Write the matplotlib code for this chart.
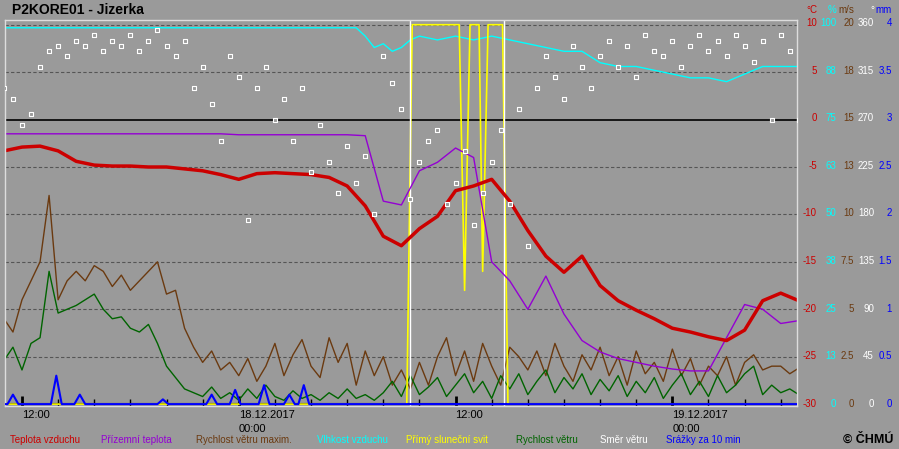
import numpy as np
import matplotlib.pyplot as plt

# hours since 17.12.2017 12:00
hours = np.arange(-1, 44, 1)
teplota = [-3.3, -2.9, -2.8, -3.3, -4.4, -4.8, -4.9, -4.9, -5.0, -5.0, -5.2, -5.4, -5.8, -6.3,
           -5.7, -5.6, -5.7, -5.8, -6.1, -7.0, -9.1, -12.3, -13.3, -11.5, -10.2, -7.5, -7.0, -6.3,
           -8.6, -11.7, -14.4, -16.1, -14.4, -17.5, -19.1, -20.1, -21.0, -22.0, -22.4, -22.9,
           -23.3, -22.2, -19.1, -18.3, -19.1]
prizemni = [-1.5, -1.5, -1.5, -1.5, -1.5, -1.5, -1.5, -1.5, -1.5, -1.5, -1.5, -1.5, -1.5, -1.6,
            -1.6, -1.6, -1.6, -1.6, -1.6, -1.6, -1.7, -8.6, -9.0, -5.4, -4.5, -3.0, -4.0, -15.0,
            -17.0, -20.0, -16.5, -20.5, -23.3, -24.5, -25.2, -25.6, -26.0, -26.3, -26.5, -26.5,
            -23.0, -19.5, -20.0, -21.5, -21.2]

vlh_t = [-1, 18.5, 19, 19.5, 20, 20.5, 21, 21.5, 22, 23, 24, 25, 26, 27, 28, 29, 30, 31, 32, 33,
         34, 35, 36, 37, 38, 39, 40, 41, 42, 43]
vlhkost = [99.2, 99.2, 97, 94, 95, 93, 94, 96, 97, 96, 97, 96, 97, 96, 95, 94, 93, 93, 90, 89,
           89, 88, 87, 86, 86, 85, 87, 89, 89, 89]

slunce_t = [-1, 21.3, 21.6, 24.2, 24.5, 24.8, 25.3, 25.5, 25.8, 26.6, 26.9, 43]
slunce = [0, 0, 1, 1, 0.3, 1, 1, 0.35, 1, 1, 0, 0]

vitr_max = [4.5, 3.8, 5.5, 6.5, 7.5, 11.0, 5.5, 6.5, 7.0, 6.5, 7.3, 7.0, 6.2, 6.8, 6.0, 6.5, 7.0,
            7.5, 5.8, 6.0, 4.0, 3.0, 2.2, 2.8, 1.8, 2.2, 1.5, 2.4, 1.2, 2.0, 3.2, 1.5, 2.6, 3.4,
            2.0, 1.4, 3.5, 2.2, 3.2, 1.0, 2.8, 1.5, 2.5, 1.0, 1.8, 0.8, 2.2, 1.0, 2.5, 3.5, 1.5,
            2.8, 1.2, 3.2, 2.0, 1.0, 3.0, 2.5, 1.8, 2.8, 1.5, 3.2, 2.0, 1.2, 2.6, 1.8, 3.0, 1.5,
            2.5, 1.0, 2.8, 1.6, 2.2, 1.2, 2.9, 1.5, 2.4, 1.0, 2.0, 1.5, 2.5, 1.0, 2.2, 2.6, 1.8,
            2.0, 2.0, 1.6, 1.9]
vitr = [2.3, 3.0, 1.8, 3.2, 3.5, 7.0, 4.8, 5.0, 5.2, 5.5, 5.8, 5.0, 4.5, 4.6, 4.0, 3.8, 4.2, 3.2,
        2.0, 1.4, 0.8, 0.6, 0.4, 0.9, 0.3, 0.6, 0.2, 0.8, 0.3, 1.0, 0.4, 0.2, 0.7, 0.3, 0.5, 0.2,
        0.6, 0.3, 0.8, 0.3, 0.5, 0.2, 0.6, 1.2, 0.4, 1.5, 0.5, 0.9, 1.4, 0.4, 1.0, 1.6, 0.6, 1.2,
        0.3, 1.5, 0.8, 1.6, 0.5, 1.2, 1.8, 0.6, 1.4, 0.8, 1.6, 0.5, 1.3, 0.7, 1.5, 0.4, 1.2, 0.6,
        1.4, 0.3, 1.0, 1.6, 0.5, 1.2, 0.4, 1.5, 0.6, 1.0, 1.6, 2.0, 0.5, 1.0, 0.6, 0.8, 0.5]
smer = [300, 290, 265, 275, 320, 335, 340, 330, 345, 340, 350, 335, 345, 340, 350, 335, 345, 355,
        340, 330, 345, 300, 320, 285, 250, 330, 310, 175, 300, 320, 270, 290, 250, 300, 220, 265,
        230, 200, 245, 210, 235, 180, 330, 305, 280, 195, 230, 250, 260, 190, 210, 240, 170, 200,
        230, 260, 190, 280, 150, 300, 330, 310, 290, 340, 320, 300, 330, 345, 320, 340, 310, 350,
        335, 330, 345, 320, 340, 350, 335, 345, 330, 350, 340, 325, 345, 270, 350, 335, 270]

srazky_t = [-0.5, 1.9, 3.2, 7.8, 10.5, 11.8, 13.4, 14.8, 15.6]
srazky = [0.1, 0.3, 0.1, 0.05, 0.1, 0.15, 0.2, 0.1, 0.2]

def deg(v, vmax):
    return -30 + 40 * np.asarray(v, dtype=float) / vmax

bg = "#9a9a9a"
fig = plt.figure(figsize=(8.99, 4.49), dpi=100, facecolor=bg)
ax = fig.add_axes([5 / 899, 43 / 449, 792 / 899, 386 / 449], facecolor=bg)
ax.set_xlim(-0.94, 42.9)
ax.set_ylim(-30.2, 10.5)

for v in range(-25, 11, 5):
    if v != 0:
        ax.axhline(v, color="#555555", lw=0.8, ls=(0, (3, 2)), zorder=0)
ax.axhline(0, color="black", lw=1.2, zorder=1)
ax.axhline(-30, color="black", lw=1.5, zorder=1)

t_half = np.linspace(-1, 43, len(vitr_max))
t_half2 = np.linspace(-1, 43, len(vitr))
t_smer = np.linspace(-1, 43, len(smer))

ax.plot(t_half, deg(vitr_max, 20), color="#6b3a10", lw=1)
ax.plot(t_half2, deg(vitr, 20), color="#006400", lw=1)
ax.plot(vlh_t, deg(vlhkost, 100), color="cyan", lw=1)
ax.plot(slunce_t, -30 + 40 * np.array(slunce), color="yellow", lw=1.2)
ax.axvline(21.5, color="white", lw=1)
ax.axvline(26.7, color="white", lw=1)
ax.plot(hours, prizemni, color="#9400d3", lw=1)
ax.plot(hours, teplota, color="#cc0000", lw=2.5)
ax.scatter(t_smer, deg(smer, 360), s=5, marker="s", facecolor=bg, edgecolor="white", lw=0.8, zorder=5)

px, py = [-1], [0]
for t, v in zip(srazky_t, srazky):
    px += [t - 0.3, t, t + 0.3]
    py += [0, v, 0]
px.append(43)
py.append(0)
ax.plot(px, deg(py, 4), color="blue", lw=1.5, zorder=4)

ax.set_yticks([])
ax.set_xticks(np.arange(0, 43, 2), minor=True)
ax.set_xticks([0, 12, 24, 36])
ax.set_xticklabels(["12:00", "18.12.2017\n00:00", "12:00", "19.12.2017\n00:00"], ha="left", fontsize=8,
                   family="Liberation Sans", linespacing=1.45)
ax.tick_params(axis="x", which="major", direction="in", length=7, width=2, pad=3)
ax.tick_params(axis="x", which="minor", direction="in", length=5, width=1)
for s in ax.spines.values():
    s.set_color("#dddddd")
    s.set_linewidth(1)

fig.text(12 / 899, 1 - 10 / 449, "P2KORE01 - Jizerka", fontsize=10, weight="bold", va="center",
         family="Liberation Sans")

cols = [(817, "°C", "#cc0000", [10, 5, 0, -5, -10, -15, -20, -25, -30]),
        (836, "%", "cyan", [100, 88, 75, 63, 50, 38, 25, 13, 0]),
        (854, "m/s", "#6b3a10", [20, 18, 15, 13, 10, 7.5, 5, 2.5, 0]),
        (874, "°", "white", [360, 315, 270, 225, 180, 135, 90, 45, 0]),
        (892, "mm", "blue", [4, 3.5, 3, 2.5, 2, 1.5, 1, 0.5, 0])]
for x, head, c, vals in cols:
    fig.text(x / 899, 1 - 10 / 449, head, color=c, fontsize=7, ha="right", va="center",
             family="Liberation Sans")
    for i, v in enumerate(vals):
        y = 23 + i * 47.6
        fig.text(x / 899, 1 - y / 449, f"{v:g}", color=c, fontsize=7, ha="right", va="center",
                 family="Liberation Sans")

legend = [(10, "Teplota vzduchu", "#cc0000"), (101, "Přízemní teplota", "#9400d3"),
          (196, "Rychlost větru maxim.", "#6b3a10"), (317, "Vlhkost vzduchu", "cyan"),
          (406, "Přímý sluneční svit", "yellow"), (516, "Rychlost větru", "#006400"),
          (600, "Směr větru", "white"), (666, "Srážky za 10 min", "blue")]
for x, txt, c in legend:
    fig.text(x / 899, 1 - 440 / 449, txt, color=c, fontsize=7, va="center", family="Liberation Sans")
fig.text(893 / 899, 1 - 440 / 449, "© ČHMÚ", fontsize=9, weight="bold", ha="right", va="center",
         family="Liberation Sans")

plt.savefig("out.png", dpi=100, facecolor=bg)
